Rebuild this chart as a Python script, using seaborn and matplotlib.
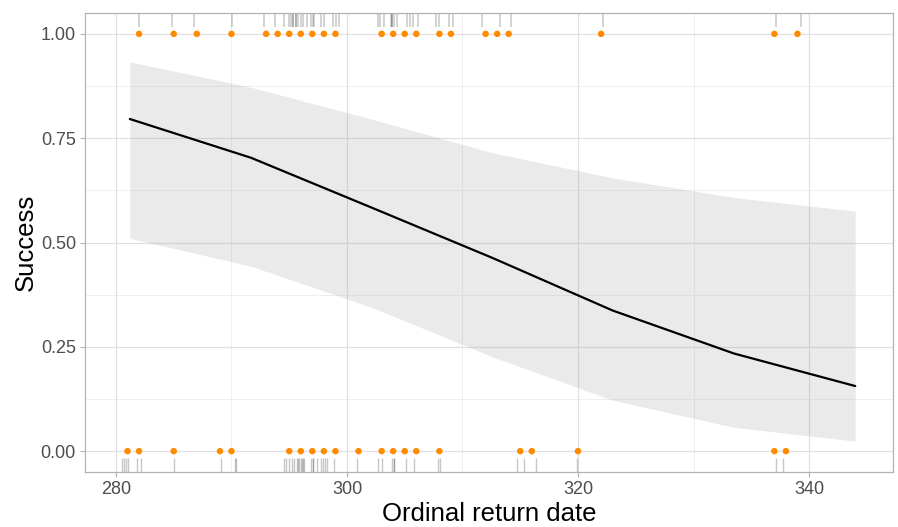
import numpy as np
import pandas as pd
import matplotlib
matplotlib.use("Agg")
import matplotlib.pyplot as plt
import seaborn as sns

# ---- data ----
success_dates = [282, 285, 287, 290, 293, 294, 295, 296, 297, 298, 299, 303, 304,
                 305, 306, 308, 309, 312, 313, 314, 322, 337, 339]
failure_dates = [281, 282, 285, 289, 290, 295, 296, 297, 298, 299, 301, 303, 304,
                 305, 306, 308, 315, 316, 320, 337, 338]

success_rug = [281.99, 284.87, 286.75, 290.02, 292.81, 293.77, 294.57, 295.00, 295.13,
               295.30, 295.30, 295.56, 295.56, 295.78, 296.02, 296.22, 296.56, 296.86,
               297.03, 297.17, 297.75, 298.01, 298.81, 299.05, 299.33, 302.65, 302.90,
               303.20, 303.78, 303.94, 303.94, 304.10, 304.30, 305.17, 305.45, 305.74,
               306.17, 307.71, 307.99, 308.86, 309.20, 311.66, 313.27, 314.17, 322.14,
               337.14, 339.28]
failure_rug = [280.49, 280.72, 280.89, 281.06, 281.79, 282.16, 285.00, 289.06, 290.30,
               290.36, 294.55, 294.76, 295.00, 295.21, 295.44, 295.65, 295.78, 295.87,
               295.99, 296.13, 296.22, 296.30, 296.88, 297.10, 297.10, 297.43, 297.71,
               297.90, 298.10, 298.31, 298.90, 300.91, 302.66, 303.03, 303.87, 304.03,
               304.03, 305.10, 305.84, 307.84, 308.05, 314.69, 315.35, 316.34, 319.94,
               337.12, 337.78]

fit_x = [281.2, 291.7, 302.1, 312.6, 323.0, 333.5, 344.0]
fit_y = [0.796, 0.703, 0.584, 0.463, 0.337, 0.234, 0.156]
fit_lo = [0.510, 0.443, 0.345, 0.226, 0.122, 0.057, 0.024]
fit_hi = [0.933, 0.872, 0.796, 0.715, 0.655, 0.608, 0.575]

x_ticks = [280, 300, 320, 340]
y_ticks = [0.0, 0.25, 0.5, 0.75, 1.0]
y_tick_labels = ["0.00", "0.25", "0.50", "0.75", "1.00"]

# ---- figure ----
sns.set_theme(style="white")
plt.rcParams["font.family"] = ["Liberation Sans", "DejaVu Sans"]

fig = plt.figure(figsize=(8.98, 5.27), dpi=100)
ax = fig.add_axes([85 / 898, 1 - 472 / 527, (893 - 85) / 898, (472 - 13) / 527])

pts = pd.DataFrame({
    "date": success_dates + failure_dates,
    "success": [1] * len(success_dates) + [0] * len(failure_dates),
})
fit = pd.DataFrame({"x": fit_x, "y": fit_y, "lo": fit_lo, "hi": fit_hi})

# grid
for v in [290, 310, 330]:
    ax.axvline(v, color="#EDEDED", lw=0.6, zorder=0)
for v in [0.125, 0.375, 0.625, 0.875]:
    ax.axhline(v, color="#EDEDED", lw=0.6, zorder=0)
for v in x_ticks:
    ax.axvline(v, color="#E0E0E0", lw=0.9, zorder=0)
for v in y_ticks:
    ax.axhline(v, color="#E0E0E0", lw=0.9, zorder=0)

# ribbon + fitted line
ax.fill_between(fit["x"], fit["lo"], fit["hi"], color="#999999", alpha=0.2,
                lw=0, zorder=1)
sns.lineplot(data=fit, x="x", y="y", color="black", lw=1.6, ax=ax, zorder=3,
             estimator=None, sort=True)

# points
sns.scatterplot(data=pts, x="date", y="success", color="#FF8C00", s=22,
                edgecolor="none", ax=ax, zorder=4)

# rugs
sns.rugplot(x=failure_rug, height=0.03, color="black", alpha=0.22, lw=1.1, ax=ax,
            expand_margins=False)
ax.vlines(success_rug, 0.97, 1.0, transform=ax.get_xaxis_transform(),
          color="black", alpha=0.22, lw=1.1)

ax.set_xlim(277.32, 347.27)
ax.set_ylim(-0.05, 1.05)
ax.set_xticks(x_ticks)
ax.set_xticklabels([str(t) for t in x_ticks])
ax.set_yticks(y_ticks)
ax.set_yticklabels(y_tick_labels)

ax.tick_params(axis="both", which="major", length=3.5, width=0.8, color="#B3B3B3",
               labelsize=13, labelcolor="#4D4D4D", pad=3, bottom=True, left=True)
for sp in ax.spines.values():
    sp.set_color("#B3B3B3")
    sp.set_linewidth(0.9)

ax.set_xlabel("Ordinal return date", fontsize=18.5, color="black", labelpad=3)
ax.set_ylabel("Success", fontsize=18.5, color="black", labelpad=2)

fig.savefig("out.png", dpi=100)
